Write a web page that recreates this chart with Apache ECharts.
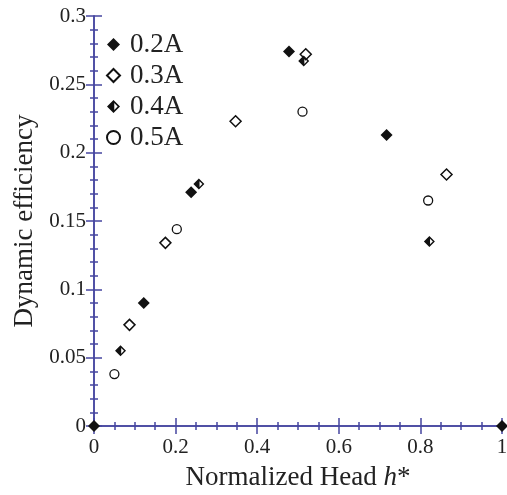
<!DOCTYPE html>
<html>
<head>
<meta charset="utf-8">
<script src="https://cdn.jsdelivr.net/npm/echarts@6/dist/echarts.min.js"></script>
<style>
  html, body { margin: 0; padding: 0; background: #fff; }
  #chart { width: 507px; height: 495px; }
</style>
</head>
<body>
<div id="chart"></div>
<script>
// points: [h*, efficiency]
var current02 = [[0, 0], [0.122, 0.09], [0.238, 0.171], [0.478, 0.274], [0.717, 0.213], [1, 0]];
var current03 = [[0.087, 0.074], [0.175, 0.134], [0.347, 0.223], [0.519, 0.272], [0.864, 0.184]];
var current04 = [[0.065, 0.055], [0.257, 0.177], [0.514, 0.267], [0.822, 0.135]];
var current05 = [[0.050, 0.038], [0.203, 0.144], [0.511, 0.230], [0.819, 0.165]];

var axisColor = '#4646a0';
var font = 'Liberation Serif';

// diamond with the right half cut out (half filled marker)
var halfDiamond = 'path://M5 0 L10 5 L5 10 L0 5 Z M5.6 2.4 L5.6 7.6 L8.2 5 Z';

var chart = echarts.init(document.getElementById('chart'));

function fmt(v) {
  return String(+v.toFixed(2));
}

function tick() {
  return { show: true, inside: true, length: 8, lineStyle: { color: axisColor, width: 1.5 } };
}
function minor(n) {
  return { show: true, splitNumber: n, length: 4, lineStyle: { color: axisColor, width: 1.5 } };
}
function line() {
  return { show: true, lineStyle: { color: axisColor, width: 1.5 } };
}

chart.setOption({
  animation: false,
  grid: { left: 94, right: 5, top: 16, bottom: 69, outerBoundsMode: 'none' },
  legend: {
    orient: 'vertical',
    left: 101,
    top: 26,
    itemWidth: 13,
    itemHeight: 13,
    itemGap: 4,
    textStyle: { fontFamily: font, fontSize: 27, color: '#222', padding: [0, 0, 0, 5] },
    data: ['0.2A', '0.3A', '0.4A', '0.5A']
  },
  xAxis: [{
    type: 'value',
    min: 0, max: 1, interval: 0.2,
    name: 'Normalized Head {i|h}*',
    nameLocation: 'middle',
    nameGap: 38,
    nameTextStyle: {
      fontFamily: font, fontSize: 27, color: '#222',
      rich: { i: { fontFamily: font, fontSize: 27, fontStyle: 'italic', color: '#222' } }
    },
    axisLine: line(),
    axisTick: tick(),
    minorTick: minor(4),
    splitLine: { show: false },
    axisLabel: { fontFamily: font, fontSize: 21, color: '#222', margin: 11, formatter: fmt }
  }, {
    type: 'value', position: 'top',
    min: 0, max: 1, interval: 0.2,
    axisLine: line(),
    axisTick: tick(),
    minorTick: minor(4),
    splitLine: { show: false },
    axisLabel: { show: false }
  }],
  yAxis: [{
    type: 'value',
    min: 0, max: 0.3, interval: 0.05,
    name: 'Dynamic efficiency',
    nameLocation: 'middle',
    nameGap: 54,
    nameTextStyle: { fontFamily: font, fontSize: 27, color: '#222' },
    axisLine: line(),
    axisTick: tick(),
    minorTick: minor(5),
    splitLine: { show: false },
    axisLabel: { fontFamily: font, fontSize: 21, color: '#222', margin: 8, formatter: fmt }
  }, {
    type: 'value', position: 'right',
    min: 0, max: 0.3, interval: 0.05,
    axisLine: line(),
    axisTick: tick(),
    minorTick: minor(5),
    splitLine: { show: false },
    axisLabel: { show: false }
  }],
  series: [{
    name: '0.2A', type: 'scatter', clip: false,
    symbol: 'diamond', symbolSize: 12,
    itemStyle: { color: '#111', opacity: 1 },
    data: current02
  }, {
    name: '0.3A', type: 'scatter', clip: false,
    symbol: 'diamond', symbolSize: 11,
    itemStyle: { color: '#fff', borderColor: '#111', borderWidth: 1.5, opacity: 1 },
    data: current03
  }, {
    name: '0.4A', type: 'scatter', clip: false,
    symbol: halfDiamond, symbolSize: 11,
    itemStyle: { color: '#111', opacity: 1 },
    data: current04
  }, {
    name: '0.5A', type: 'scatter', clip: false,
    symbol: 'circle', symbolSize: 9,
    itemStyle: { color: '#fff', borderColor: '#111', borderWidth: 1.3, opacity: 1 },
    data: current05
  }]
});
</script>
</body>
</html>
